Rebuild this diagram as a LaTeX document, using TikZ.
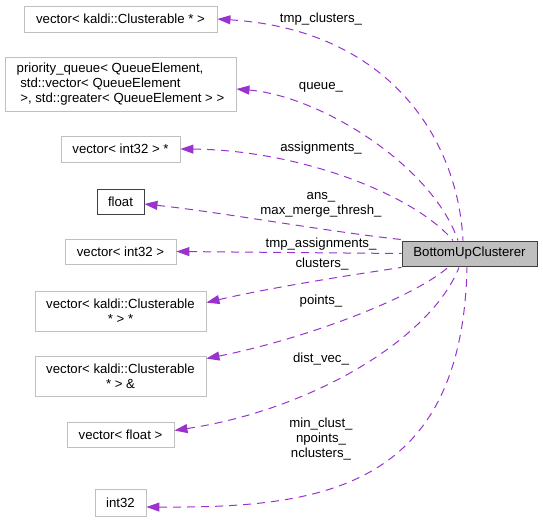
\documentclass[tikz,border=0pt]{standalone}
\usepackage{fontspec}
\setmainfont{Liberation Sans}
\usepackage{tikz}
\usetikzlibrary{positioning, shapes, arrows.meta}
\definecolor{linkpurple}{HTML}{9A32CD}
\definecolor{boxgray}{HTML}{BFBFBF}
\definecolor{hubline}{HTML}{404040}

\begin{document}
\begin{tikzpicture}[
        x=1pt, y=-1pt,
        every node/.style={align=center, inner sep=0pt, font=\fontsize{13.2}{15}\selectfont},
        member/.style={rectangle, draw=boxgray, line width=0.9pt, fill=white},
        builtin/.style={rectangle, draw=hubline, line width=0.9pt, fill=white},
        hubbox/.style={rectangle, draw=hubline, line width=0.9pt, fill=boxgray},
        link/.style={linkpurple, line width=1pt, dash pattern=on 8pt off 6pt,
            arrows={Triangle[length=13pt, width=9pt]-}},
        role/.style={fill=none}
    ]
    \useasboundingbox (0,0) rectangle (543,521);

    % Central class
    \node[hubbox, minimum width=135pt, minimum height=25pt] (hub) at (469.5,253.5) {BottomUpClusterer};

    % Member types
    \node[member, minimum width=193pt, minimum height=26pt] (tmpclusters) at (120.5,19) {vector< kaldi::Clusterable * >};
    \node[member, minimum width=231pt, minimum height=54pt, align=left] (queue) at (120.5,84)
        {priority\_queue< QueueElement,\\ \ std::vector< QueueElement\\ \ >, std::greater< QueueElement > >};
    \node[member, minimum width=119pt, minimum height=26pt] (assign) at (120.5,149) {vector< int32 > *};
    \node[builtin, minimum width=47pt, minimum height=25pt] (thresh) at (120.5,201.5) {float};
    \node[member, minimum width=111pt, minimum height=25pt] (tmpassign) at (120.5,251.5) {vector< int32 >};
    \node[member, minimum width=171pt, minimum height=40pt] (clusters) at (120.5,311) {vector< kaldi::Clusterable\\* > *};
    \node[member, minimum width=171pt, minimum height=40pt] (points) at (120.5,376) {vector< kaldi::Clusterable\\* > \&};
    \node[member, minimum width=107pt, minimum height=25pt] (distvec) at (120.5,434.5) {vector< float >};
    \node[member, minimum width=51pt, minimum height=27pt] (counts) at (120.5,502.5) {int32};

    % Member links
    \draw[link] (tmpclusters.east) .. controls (390,30) and (458,140) .. ([xshift=-6.5pt]hub.north);
    \draw[link] ([yshift=-5pt]queue.east) .. controls (320,96) and (432,165) .. ([xshift=-11.5pt]hub.north);
    \draw[link] (assign.east) .. controls (300,150) and (415,195) .. ([xshift=-16.5pt]hub.north);
    \draw[link] ([yshift=-2.5pt]thresh.east) .. controls (220,212) and (330,232) .. ([yshift=1pt]hub.north west);
    \draw[link] (tmpassign.east) -- (hub.west);
    \draw[link] ([yshift=-12pt]clusters.north east) .. controls (260,290) and (330,278) .. ([yshift=-1pt]hub.south west);
    \draw[link] ([yshift=-3pt]points.north east) .. controls (300,340) and (410,300) .. ([xshift=-21.5pt,yshift=-1pt]hub.south);
    \draw[link] ([yshift=4pt]distvec.east) .. controls (310,410) and (430,340) .. ([xshift=-10.5pt,yshift=-1pt]hub.south);
    \draw[link] ([yshift=-4.5pt]counts.east) .. controls (320,508) and (462,490) .. ([xshift=-2.5pt,yshift=-1pt]hub.south);

    % Link roles
    \node[role] (lbltmpclusters) at (321,19) {tmp\_clusters\_};
    \node[role] (lblqueue) at (321,87) {queue\_};
    \node[role] (lblassign) at (321,148) {assignments\_};
    \node[role] (lblthresh) at (321,205) {ans\_\\max\_merge\_thresh\_};
    \node[role] (lbltmpassign) at (321,244) {tmp\_assignments\_};
    \node[role] (lblclusters) at (322,264) {clusters\_};
    \node[role] (lblpoints) at (321,301) {points\_};
    \node[role] (lbldistvec) at (321,359) {dist\_vec\_};
    \node[role] (lblcounts) at (321,439) {min\_clust\_\\npoints\_\\nclusters\_};

\end{tikzpicture}
\end{document}
